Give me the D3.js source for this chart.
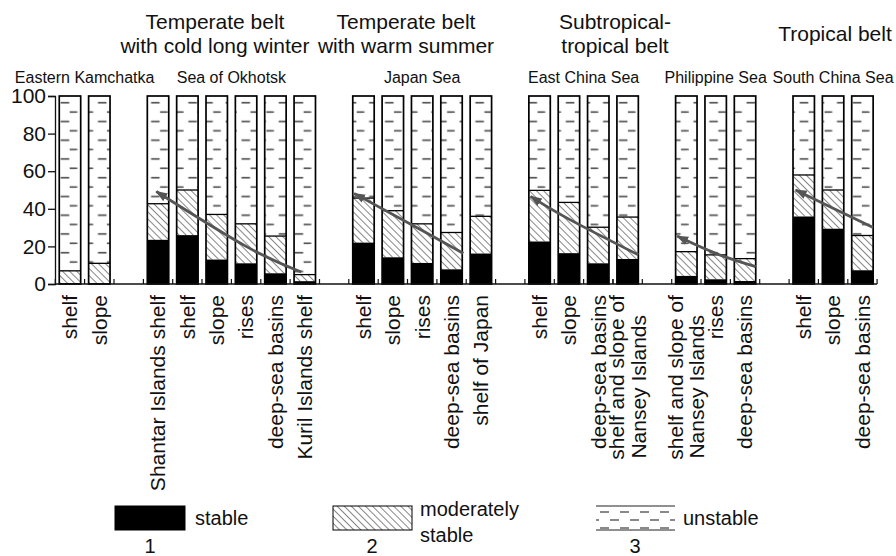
<!DOCTYPE html>
<html>
<head>
<meta charset="utf-8">
<script src="https://cdn.jsdelivr.net/npm/d3@7"></script>
<style>
  body { margin: 0; background: #fff; }
  svg { display: block; font-family: "Liberation Sans", Arial, Helvetica, sans-serif; }
</style>
</head>
<body>
<svg id="chart" width="896" height="556"></svg>
<script>
// seas, and which sea each bottom area belongs to
var seas = ["Eastern Kamchatka", "Sea of Okhotsk", "Japan Sea", "East China Sea", "Philippine Sea", "South China Sea"];
var categories = [
  "shelf", "slope",
  "Shantar Islands shelf", "shelf", "slope", "rises", "deep-sea basins", "Kuril Islands shelf",
  "shelf", "slope", "rises", "deep-sea basins", "shelf of Japan",
  "shelf", "slope", "deep-sea basins", "shelf and slope of|Nansey Islands",
  "shelf and slope of|Nansey Islands", "rises", "deep-sea basins",
  "shelf", "slope", "deep-sea basins"
];
var seaOf = [0, 0, 1, 1, 1, 1, 1, 1, 2, 2, 2, 2, 2, 3, 3, 3, 3, 4, 4, 4, 5, 5, 5];

// percentages: 1 stable, 2 moderately stable (rest up to 100 is unstable)
var stable   = [0.5, 0.5, 23.5, 26, 13, 11, 5.7, 1.5, 22, 14.2, 11.2, 7.8, 16.2, 22.6, 16.4, 11, 13.3, 4.3, 2.5, 1.6, 35.9, 29.4, 7.3];
var moderate = [6.5, 10.5, 19.2, 24, 24, 21, 19.8, 3.5, 23.7, 24.8, 20.8, 19.6, 19.8, 27.2, 27, 19.2, 22.3, 12.9, 13, 11.9, 22.1, 20.6, 18.5];

var belts = [["Temperate belt", "with cold long winter"], ["Temperate belt", "with warm summer"], ["Subtropical-", "tropical belt"], ["Tropical belt"]];
var yTicks = [0, 20, 40, 60, 80, 100];

// trend arrows: [category index, fraction across the bar, value], tail first, head last
var trends = [
  [[7, 0.33, 6.4], [5, 0.5, 20], [2, 0.42, 49.2]],
  [[11, 1.05, 16.3], [10, 0.5, 28.5], [8, 0.06, 48.2]],
  [[16, 1.0, 15.5], [14, 0.5, 34.5], [13, 0.08, 46.6]],
  [[19, 1.0, 9.2], [18, 0.5, 16.3], [17, 0.07, 25.5]],
  [[22, 1.0, 30], [21, 0.5, 40.3], [20, 0.12, 50]]
];

var legendItems = ["stable", "moderately|stable", "unstable"];

var svg = d3.select("#chart");
var defs = svg.append("defs");

// slots with an empty slot between seas
var slots = [];
categories.forEach(function(c, i) {
  if (i > 0 && seaOf[i] !== seaOf[i - 1]) slots.push("gap" + i);
  slots.push("c" + i);
});

var x = d3.scaleBand().domain(slots).range([55.3, 877.1]).paddingInner(0.27).paddingOuter(0.135);
var y = d3.scaleLinear().domain([0, 100]).range([284, 96]);
var bw = x.bandwidth();
var pad = x.step() - bw;

// hatch for moderately stable
var hatch = defs.append("pattern")
  .attr("id", "hatch")
  .attr("patternUnits", "userSpaceOnUse")
  .attr("width", 5).attr("height", 5)
  .attr("patternTransform", "rotate(-45)");
hatch.append("line").attr("x1", 0).attr("y1", 0).attr("x2", 0).attr("y2", 5)
  .attr("stroke", "#222").attr("stroke-width", 1.1);

// dash pattern for unstable, one per bar so dashes sit the same way in each
var upat = defs.selectAll(".upat").data(categories).join("pattern")
  .attr("class", "upat")
  .attr("id", function(d, i) { return "uns" + i; })
  .attr("patternUnits", "userSpaceOnUse")
  .attr("x", function(d, i) { return x("c" + i); })
  .attr("y", y(100) + 2)
  .attr("width", bw).attr("height", 18.75);
upat.append("line").attr("x1", bw * 0.3).attr("x2", bw * 0.7).attr("y1", 4.7).attr("y2", 4.7);
upat.append("line").attr("x1", bw * 0.72).attr("x2", bw).attr("y1", 14.06).attr("y2", 14.06);
upat.append("line").attr("x1", 0).attr("x2", bw * 0.08).attr("y1", 14.06).attr("y2", 14.06);
upat.selectAll("line").attr("stroke", "#555").attr("stroke-width", 1.7);

// legend version of the dash pattern
var lpat = defs.append("pattern")
  .attr("id", "unsLegend")
  .attr("patternUnits", "userSpaceOnUse")
  .attr("x", 596).attr("y", 506)
  .attr("width", 20).attr("height", 16);
lpat.append("line").attr("x1", 4).attr("x2", 13).attr("y1", 6).attr("y2", 6);
lpat.append("line").attr("x1", 14).attr("x2", 20).attr("y1", 14).attr("y2", 14);
lpat.append("line").attr("x1", 0).attr("x2", 3).attr("y1", 14).attr("y2", 14);
lpat.selectAll("line").attr("stroke", "#555").attr("stroke-width", 1.4);

// arrow head
defs.append("marker")
  .attr("id", "head")
  .attr("markerUnits", "userSpaceOnUse")
  .attr("viewBox", "0 -5 12 10")
  .attr("refX", 11).attr("refY", 0)
  .attr("markerWidth", 12).attr("markerHeight", 10)
  .attr("orient", "auto")
  .append("path").attr("d", "M0,-4.5L12,0L0,4.5Z").attr("fill", "#555");

// bars
var bars = svg.append("g").selectAll("g").data(categories).join("g")
  .attr("transform", function(d, i) { return "translate(" + x("c" + i) + ",0)"; });

bars.append("rect")
  .attr("y", y(100))
  .attr("width", bw)
  .attr("height", function(d, i) { return y(stable[i] + moderate[i]) - y(100); })
  .attr("fill", function(d, i) { return "url(#uns" + i + ")"; });

bars.append("rect")
  .attr("y", function(d, i) { return y(stable[i] + moderate[i]); })
  .attr("width", bw)
  .attr("height", function(d, i) { return y(stable[i]) - y(stable[i] + moderate[i]); })
  .attr("fill", "url(#hatch)");

bars.append("rect")
  .attr("y", function(d, i) { return y(stable[i]); })
  .attr("width", bw)
  .attr("height", function(d, i) { return y(0) - y(stable[i]); })
  .attr("fill", "#000");

// boundaries between classes
bars.append("line")
  .attr("x1", 0).attr("x2", bw)
  .attr("y1", function(d, i) { return y(stable[i] + moderate[i]); })
  .attr("y2", function(d, i) { return y(stable[i] + moderate[i]); })
  .attr("stroke", "#000").attr("stroke-width", 1.3);

bars.append("rect")
  .attr("y", y(100))
  .attr("width", bw)
  .attr("height", y(0) - y(100))
  .attr("fill", "none")
  .attr("stroke", "#000")
  .attr("stroke-width", 1.7);

// y axis
var yAxis = svg.append("g")
  .attr("transform", "translate(" + 55 + ",0)")
  .call(d3.axisLeft(y).tickValues(yTicks).tickSize(7).tickPadding(2));
yAxis.selectAll("text").attr("font-size", 21).attr("fill", "#111").attr("font-family", "Liberation Sans, Arial, sans-serif");
yAxis.selectAll("line,path").attr("stroke", "#111").attr("stroke-width", 1.3);

// base line and small ticks at the slot edges
svg.append("line")
  .attr("x1", 55).attr("x2", x.range()[1])
  .attr("y1", y(0)).attr("y2", y(0))
  .attr("stroke", "#111").attr("stroke-width", 1.5);

var edges = [];
categories.forEach(function(c, i) {
  var a = Math.round((x("c" + i) - pad / 2) * 10) / 10;
  var b = Math.round((x("c" + i) + bw + pad / 2) * 10) / 10;
  if (edges.indexOf(a) < 0) edges.push(a);
  if (edges.indexOf(b) < 0) edges.push(b);
});
svg.append("g").selectAll("line").data(edges).join("line")
  .attr("x1", function(d) { return d; }).attr("x2", function(d) { return d; })
  .attr("y1", y(0)).attr("y2", y(0) - 5)
  .attr("stroke", "#111").attr("stroke-width", 1.2);

// trend arrows
var arrowLine = d3.line()
  .curve(d3.curveNatural)
  .x(function(p) { return x("c" + p[0]) + p[1] * bw; })
  .y(function(p) { return y(p[2]); });

svg.append("g").selectAll("path").data(trends).join("path")
  .attr("d", arrowLine)
  .attr("fill", "none")
  .attr("stroke", "#555")
  .attr("stroke-width", 2.8)
  .attr("marker-end", "url(#head)");

// category labels, rotated
var catLabels = svg.append("g").selectAll("g").data(categories).join("g")
  .attr("transform", function(d, i) { return "translate(" + (x("c" + i) + bw / 2) + ",295) rotate(-90)"; });

catLabels.each(function(d) {
  var lines = d.split("|");
  var g = d3.select(this);
  lines.forEach(function(t, j) {
    g.append("text")
      .attr("x", -20 * j)
      .attr("y", (j - (lines.length - 1) / 2) * 21.5)
      .attr("dy", "0.35em")
      .attr("text-anchor", "end")
      .attr("font-size", 21)
      .attr("fill", "#111")
      .text(t);
  });
});

// sea names over the groups
svg.append("g").selectAll("text").data(seas).join("text")
  .attr("x", function(d, s) {
    var first = seaOf.indexOf(s), last = seaOf.lastIndexOf(s);
    return (x("c" + first) + x("c" + last) + bw) / 2;
  })
  .attr("y", 83)
  .attr("text-anchor", "middle")
  .attr("font-size", 16)
  .attr("fill", "#111")
  .text(function(d) { return d; });

// climate belts
var beltX = [215, 406, 615, 835];
svg.append("g").selectAll("text").data(belts).join("text")
  .attr("x", function(d, k) { return beltX[k]; })
  .attr("y", function(d) { return d.length > 1 ? 29 : 41; })
  .attr("text-anchor", "middle")
  .attr("font-size", 21)
  .attr("fill", "#111")
  .each(function(d, k) {
    var t = d3.select(this);
    d.forEach(function(line, j) {
      t.append("tspan").attr("x", beltX[k]).attr("dy", j ? 24 : 0).text(line);
    });
  });

// legend
var legX = [115, 333, 596];
var legFill = ["#000", "url(#hatch)", "url(#unsLegend)"];
var leg = svg.append("g").selectAll("g").data(legendItems).join("g");

leg.append("rect")
  .attr("x", function(d, k) { return legX[k]; })
  .attr("y", 506)
  .attr("width", function(d, k) { return k === 0 ? 70 : 79; })
  .attr("height", 24)
  .attr("fill", function(d, k) { return legFill[k]; })
  .attr("stroke", function(d, k) { return k === 2 ? "none" : "#000"; })
  .attr("stroke-width", 1);

leg.filter(function(d, k) { return k === 2; }).each(function() {
  var g = d3.select(this);
  [506, 530].forEach(function(yy) {
    g.append("line").attr("x1", 596).attr("x2", 675).attr("y1", yy).attr("y2", yy)
      .attr("stroke", "#222").attr("stroke-width", 1.2);
  });
});

leg.append("text")
  .attr("font-size", 20)
  .attr("fill", "#111")
  .each(function(d, k) {
    var lines = d.split("|");
    var t = d3.select(this);
    var tx = legX[k] + (k === 0 ? 80 : 87);
    lines.forEach(function(line, j) {
      t.append("tspan")
        .attr("x", tx)
        .attr("y", lines.length > 1 ? 516 + j * 26 : 525)
        .text(line);
    });
  });

leg.append("text")
  .attr("x", function(d, k) { return legX[k] + (k === 0 ? 35 : 39); })
  .attr("y", 553)
  .attr("text-anchor", "middle")
  .attr("font-size", 20)
  .attr("fill", "#111")
  .text(function(d, k) { return k + 1; });
</script>
</body>
</html>
